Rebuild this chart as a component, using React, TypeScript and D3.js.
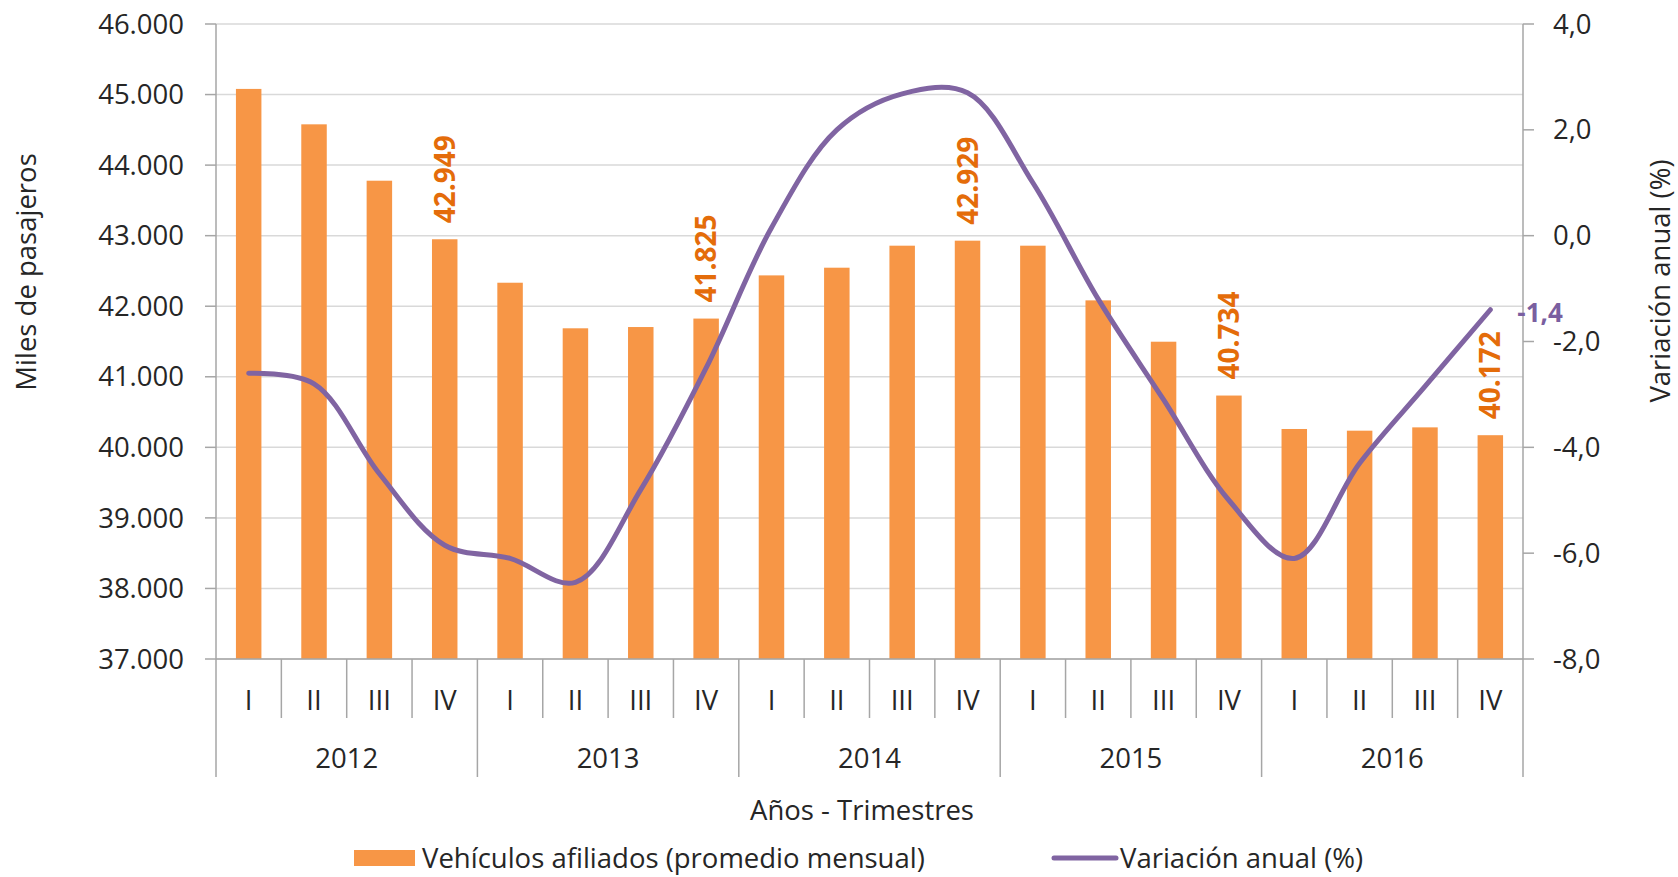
import * as d3 from 'd3';

const quarters = ['I', 'II', 'III', 'IV'];
const years = ['2012', '2013', '2014', '2015', '2016'];
const vehicles = [
  45080, 44578, 43779, 42949,
  42333, 41687, 41705, 41825,
  42437, 42546, 42858, 42929,
  42858, 42083, 41497, 40734,
  40260, 40236, 40283, 40172,
];
const variation = [
  -2.6, -2.8, -4.5, -5.85,
  -6.1, -6.55, -4.8, -2.5,
  0.15, 2.0, 2.68, 2.7,
  1.0, -1.2, -3.1, -5.0,
  -6.1, -4.3, -2.85, -1.4,
];
const leftTicks = d3.range(37000, 46001, 1000);
const rightTicks = d3.range(-8, 4.01, 2);

const width = 1678;
const height = 877;
const plotLeft = 216;
const plotRight = 1523;
const plotTop = 24;
const plotBottom = 659;
const legendY = 858;

const font = '"Open Sans", sans-serif';
const textColor = '#262626';

const fmtThousands = (v: number) => d3.format(',')(v).replace(/,/g, '.');
const fmtPct = (v: number) => v.toFixed(1).replace('.', ',');

const App = () => {
  const labels = years.flatMap(y => quarters.map(q => `${y}-${q}`));
  const x = d3.scaleBand<string>().domain(labels).range([plotLeft, plotRight]);
  const yL = d3.scaleLinear().domain([37000, 46000]).range([plotBottom, plotTop]);
  const yR = d3.scaleLinear().domain([-8, 4]).range([plotBottom, plotTop]);
  const bw = x.bandwidth();
  const barW = bw * 0.39;
  const cx = (i: number) => (x(labels[i]) ?? 0) + bw / 2;

  const line = d3.line<number>()
    .x((_, i) => cx(i))
    .y(d => yR(d))
    .curve(d3.curveCatmullRom.alpha(0.5));

  const lastI = variation.length - 1;

  return (
    <svg width={width} height={height} style={{ position: 'absolute', left: 0, top: 0, background: '#fff' }}
      fontFamily={font}>
      {/* gridlines */}
      {leftTicks.map(t => (
        <line key={t} x1={plotLeft} x2={plotRight} y1={yL(t)} y2={yL(t)} stroke="#d9d9d9" strokeWidth={1.5} />
      ))}

      {/* bars */}
      {vehicles.map((v, i) => (
        <rect key={i} x={cx(i) - barW / 2} y={yL(v)} width={barW} height={plotBottom - yL(v)} fill="#F79646" />
      ))}

      {/* bar labels on each Q IV */}
      {vehicles.map((v, i) => i % 4 === 3 ? (
        <text key={i} transform={`translate(${cx(i) + 10},${yL(v) - 16}) rotate(-90)`}
          fontSize={28} fontWeight="bold" fill="#E46C0A">{fmtThousands(v)}</text>
      ) : null)}

      {/* left axis */}
      <line x1={plotLeft} x2={plotLeft} y1={plotTop} y2={777} stroke="#a6a6a6" strokeWidth={1.5} />
      {leftTicks.map(t => (
        <g key={t}>
          <line x1={plotLeft - 11} x2={plotLeft} y1={yL(t)} y2={yL(t)} stroke="#a6a6a6" strokeWidth={1.5} />
          <text x={184} y={yL(t)} dy="0.35em" textAnchor="end" fontSize={27.5} fill={textColor}>{fmtThousands(t)}</text>
        </g>
      ))}

      {/* right axis */}
      <line x1={plotRight} x2={plotRight} y1={plotTop} y2={777} stroke="#a6a6a6" strokeWidth={1.5} />
      {rightTicks.map(t => (
        <g key={t}>
          <line x1={plotRight} x2={plotRight + 11} y1={yR(t)} y2={yR(t)} stroke="#a6a6a6" strokeWidth={1.5} />
          <text x={1553} y={yR(t)} dy="0.35em" textAnchor="start" fontSize={27.5} fill={textColor}>{fmtPct(t)}</text>
        </g>
      ))}

      {/* category axis */}
      <line x1={plotLeft} x2={plotRight} y1={plotBottom} y2={plotBottom} stroke="#a6a6a6" strokeWidth={1.5} />
      {labels.map((l, i) => (
        <g key={l}>
          {i > 0 && (
            <line x1={x(l)} x2={x(l)} y1={plotBottom} y2={i % 4 === 0 ? 777 : 718} stroke="#a6a6a6" strokeWidth={1.5} />
          )}
          <text x={cx(i)} y={700} dy="0.35em" textAnchor="middle" fontSize={27.5} fill={textColor}>
            {quarters[i % 4]}
          </text>
        </g>
      ))}
      {years.map((yr, j) => (
        <text key={yr} x={(cx(j * 4) + cx(j * 4 + 3)) / 2} y={758} dy="0.35em" textAnchor="middle"
          fontSize={27.5} fill={textColor}>{yr}</text>
      ))}

      {/* line series */}
      <path d={line(variation) ?? ''} fill="none" stroke="#8064A2" strokeWidth={5} strokeLinecap="round" />
      <text x={cx(lastI) + 27} y={yR(variation[lastI]) + 3} dy="0.35em" fontSize={26} fontWeight="bold"
        fill="#7A5FA0">{fmtPct(variation[lastI])}</text>

      {/* axis titles */}
      <text transform="translate(36,272) rotate(-90)" textAnchor="middle" fontSize={27.5} fill={textColor}>
        Miles de pasajeros
      </text>
      <text transform="translate(1670,281) rotate(-90)" textAnchor="middle" fontSize={27.5} fill={textColor}>
        Variación anual (%)
      </text>
      <text x={862} y={810} dy="0.35em" textAnchor="middle" fontSize={27.5} fill={textColor}>
        Años - Trimestres
      </text>

      {/* legend */}
      <rect x={354} y={legendY - 8} width={61} height={16} fill="#F79646" />
      <text x={422} y={legendY} dy="0.35em" fontSize={27.5} fill={textColor}>Vehículos afiliados (promedio mensual)</text>
      <line x1={1054} x2={1116} y1={legendY} y2={legendY} stroke="#8064A2" strokeWidth={5} strokeLinecap="round" />
      <text x={1120} y={legendY} dy="0.35em" fontSize={27.5} fill={textColor}>Variación anual (%)</text>
    </svg>
  );
};

export default App;
